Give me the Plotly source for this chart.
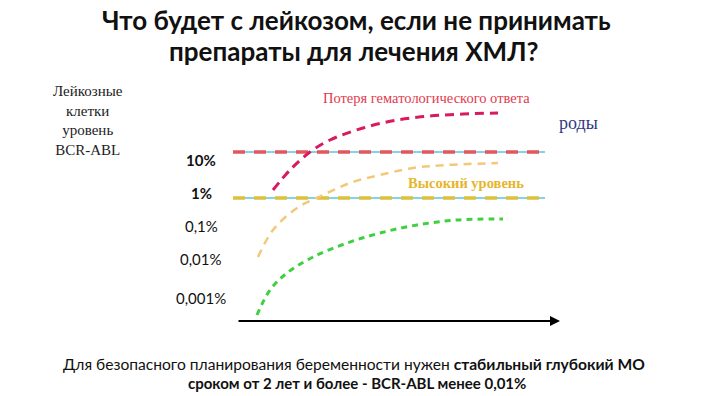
import plotly.graph_objects as go

# Diagram coordinates: x = time (px units of the slide), y = vertical position (px, top=0)
red_x = [273, 290, 310, 330, 363, 397, 430, 463, 498]
red_y = [190, 170, 152, 140, 128, 120, 116, 114, 113]
yel_x = [258, 273, 297, 323, 350, 380, 413, 447, 498]
yel_y = [257, 230, 208, 195, 183, 175, 168, 165, 163]
grn_x = [257, 270, 287, 313, 347, 380, 417, 457, 503]
grn_y = [315, 290, 273, 257, 243, 233, 225, 220, 219]

level_labels = ["<b>10%</b>", "<b>1%</b>", "0,1%", "0,01%", "0,001%"]
level_pos = [160, 193, 226, 259, 298]
threshold_pos = [152, 198]
line_start, line_end = 233, 545

fig = go.Figure()

# thresholds: thin cyan line + thick dashes
for yv, col in zip(threshold_pos, ["#e0585e", "#dcc13a"]):
    fig.add_trace(go.Scatter(x=[line_start, line_end], y=[yv, yv], mode="lines",
                             line=dict(color="#5ec4dc", width=1.5), hoverinfo="skip"))
    fig.add_trace(go.Scatter(x=[line_start, line_end], y=[yv, yv], mode="lines",
                             line=dict(color=col, width=3.5, dash="12px,9px"), hoverinfo="skip"))

fig.add_trace(go.Scatter(x=red_x, y=red_y, mode="lines",
                         line=dict(color="#d81b60", width=3, shape="spline", dash="9px,6px")))
fig.add_trace(go.Scatter(x=yel_x, y=yel_y, mode="lines",
                         line=dict(color="#f2c97a", width=2.5, shape="spline", dash="8px,6px")))
fig.add_trace(go.Scatter(x=grn_x, y=grn_y, mode="lines",
                         line=dict(color="#3fcf3f", width=3, shape="spline", dash="6px,5px")))

serif = "Liberation Serif"
ann = []
ann.append(dict(x=356, y=20, text="Что будет с лейкозом, если не принимать", showarrow=False,
                font=dict(family="Lato", size=26, color="#111", weight="bold")))
ann.append(dict(x=353, y=51, text="препараты для лечения ХМЛ?", showarrow=False,
                font=dict(family="Lato", size=26, color="#111", weight="bold")))
ann.append(dict(x=88, y=120, text="Лейкозные<br>клетки<br>уровень<br>BCR-ABL", showarrow=False,
                font=dict(family=serif, size=15, color="#222"), align="center"))
for t, yv in zip(level_labels, level_pos):
    ann.append(dict(x=201, y=yv, text=t, showarrow=False,
                    font=dict(family="Lato", size=15, color="#111")))
ann.append(dict(x=426, y=98, text="Потеря гематологического ответа", showarrow=False,
                font=dict(family=serif, size=14.5, color="#e23a4e")))
ann.append(dict(x=578, y=123, text="роды", showarrow=False,
                font=dict(family=serif, size=18, color="#2f3a80")))
ann.append(dict(x=466, y=183, text="<b>Высокий уровень</b>", showarrow=False,
                font=dict(family=serif, size=14.5, color="#e6b52e")))
ann.append(dict(x=560, y=321, ax=237, ay=321, xref="x", yref="y", axref="x", ayref="y",
                text="", showarrow=True, arrowhead=2, arrowsize=1, arrowwidth=2, arrowcolor="#000"))
ann.append(dict(x=354, y=364,
                text="Для безопасного планирования беременности нужен <b>стабильный глубокий МО</b>",
                showarrow=False, font=dict(family="Lato", size=15.6, color="#111")))
ann.append(dict(x=357, y=383, text="<b>сроком от 2 лет и более - BCR-ABL менее 0,01%</b>",
                showarrow=False, font=dict(family="Lato", size=15, color="#111")))
for a in ann:
    a.setdefault("xref", "x")
    a.setdefault("yref", "y")

fig.update_layout(
    width=709, height=396, margin=dict(l=0, r=0, t=0, b=0),
    paper_bgcolor="white", plot_bgcolor="white", showlegend=False,
    xaxis=dict(range=[0, 709], visible=False, fixedrange=True),
    yaxis=dict(range=[396, 0], visible=False, fixedrange=True),
    annotations=ann,
)
fig.write_html("out.html", config={"displayModeBar": False},
               post_script="document.body.style.margin='0';document.body.style.overflow='hidden';")
